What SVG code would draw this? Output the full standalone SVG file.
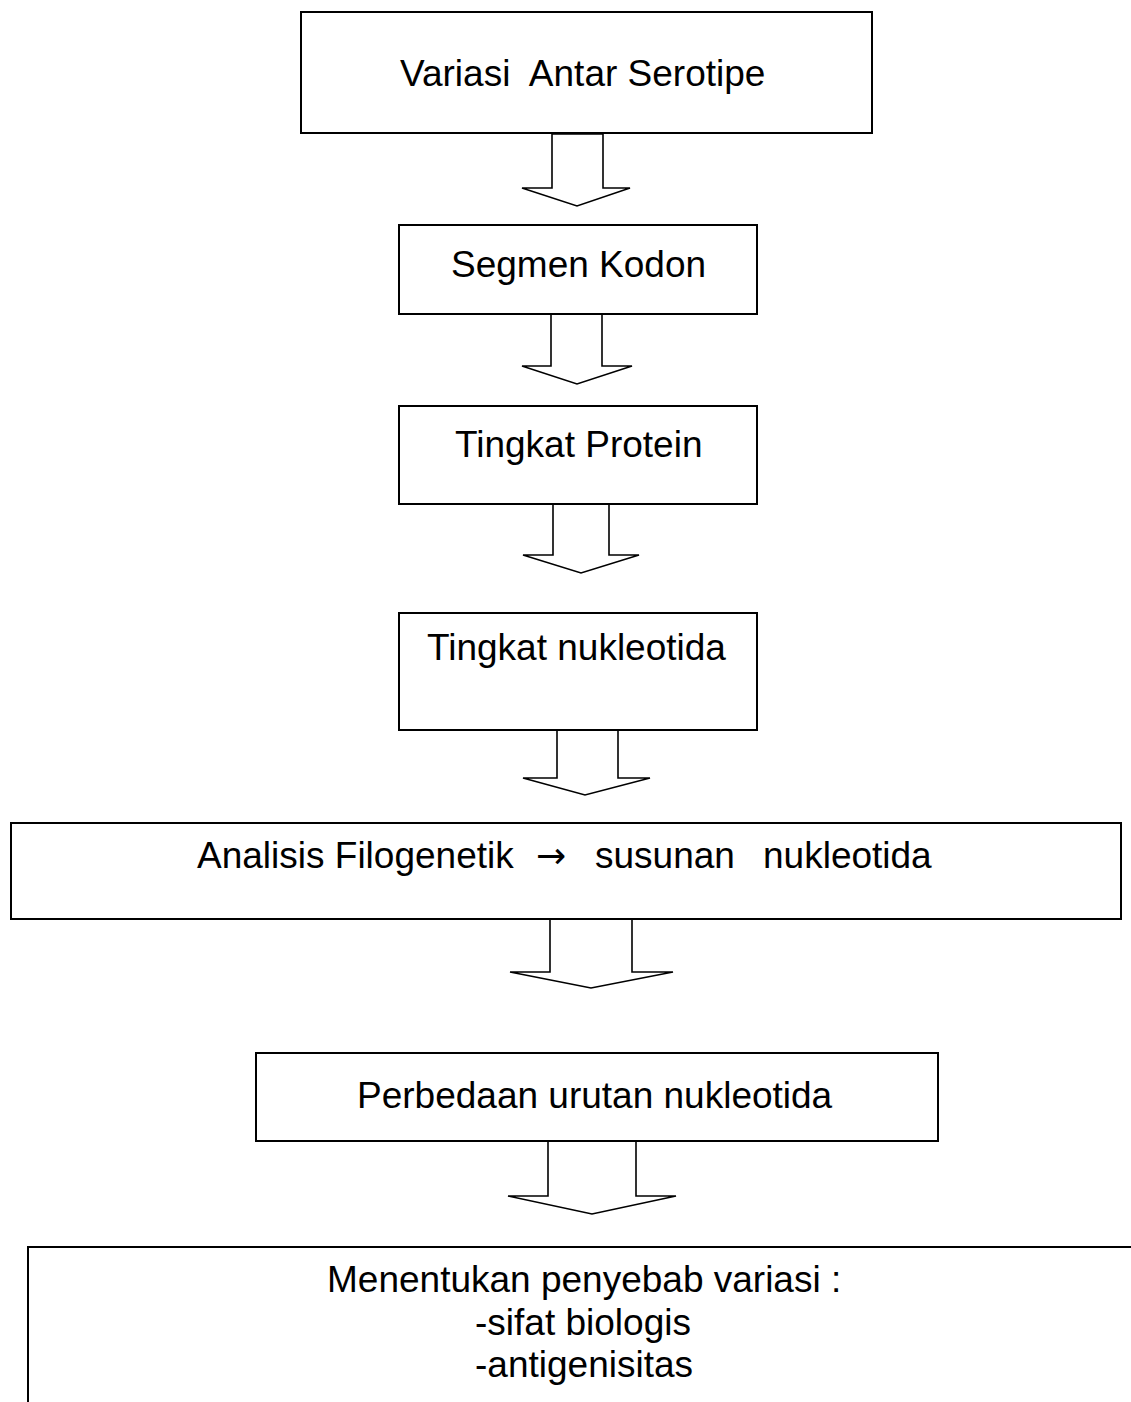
<svg xmlns="http://www.w3.org/2000/svg" width="1131" height="1402" viewBox="0 0 1131 1402">
  <style>
    .box { fill: #ffffff; stroke: #000000; stroke-width: 2; }
    .arrow { fill: #ffffff; stroke: #000000; stroke-width: 1.6; stroke-linejoin: miter; }
    .label { font-family: "Liberation Sans", Arial, sans-serif; font-size: 37px; fill: #000000; }
    .sym { font-family: "DejaVu Sans", sans-serif; font-size: 36px; }
  </style>
  <rect x="0" y="0" width="1131" height="1402" fill="#ffffff"/>

  <!-- block arrows between the steps -->
  <g id="connectors">
    <polygon class="arrow" points="552,134 603,134 603,188 630,188 577,206 522,188 552,188"/>
    <polygon class="arrow" points="551,314 602,314 602,366 632,366 577,384 522,366 551,366"/>
    <polygon class="arrow" points="553,504 609,504 609,555 639,555 581,573 523,555 553,555"/>
    <polygon class="arrow" points="557,730 618,730 618,778 650,778 585,795 523,778 557,778"/>
    <polygon class="arrow" points="550,919 632,919 632,972 673,972 591,988 510,972 550,972"/>
    <polygon class="arrow" points="548,1141 636,1141 636,1196 676,1196 592,1214 508,1196 548,1196"/>
  </g>

  <g id="node-serotipe">
    <rect class="box" x="301" y="12" width="571" height="121"/>
    <text class="label" x="400" y="86" xml:space="preserve">Variasi  Antar Serotipe</text>
  </g>

  <g id="node-kodon">
    <rect class="box" x="399" y="225" width="358" height="89"/>
    <text class="label" x="451" y="277">Segmen Kodon</text>
  </g>

  <g id="node-protein">
    <rect class="box" x="399" y="406" width="358" height="98"/>
    <text class="label" x="455" y="457">Tingkat Protein</text>
  </g>

  <g id="node-nukleotida">
    <rect class="box" x="399" y="613" width="358" height="117"/>
    <text class="label" x="427" y="660">Tingkat nukleotida</text>
  </g>

  <g id="node-filogenetik">
    <rect class="box" x="11" y="823" width="1110" height="96"/>
    <text class="label" y="868"><tspan x="197">Analisis Filogenetik</tspan><tspan class="sym" x="536">→</tspan><tspan x="595">susunan</tspan><tspan x="763">nukleotida</tspan></text>
  </g>

  <g id="node-perbedaan">
    <rect class="box" x="256" y="1053" width="682" height="88"/>
    <text class="label" x="357" y="1108">Perbedaan urutan nukleotida</text>
  </g>

  <g id="node-penyebab">
    <path class="box" d="M 28 1402 V 1247 H 1131" fill="none"/>
    <text class="label" x="327" y="1292">Menentukan penyebab variasi :</text>
    <text class="label" x="475" y="1335">-sifat biologis</text>
    <text class="label" x="475" y="1377">-antigenisitas</text>
  </g>
</svg>
